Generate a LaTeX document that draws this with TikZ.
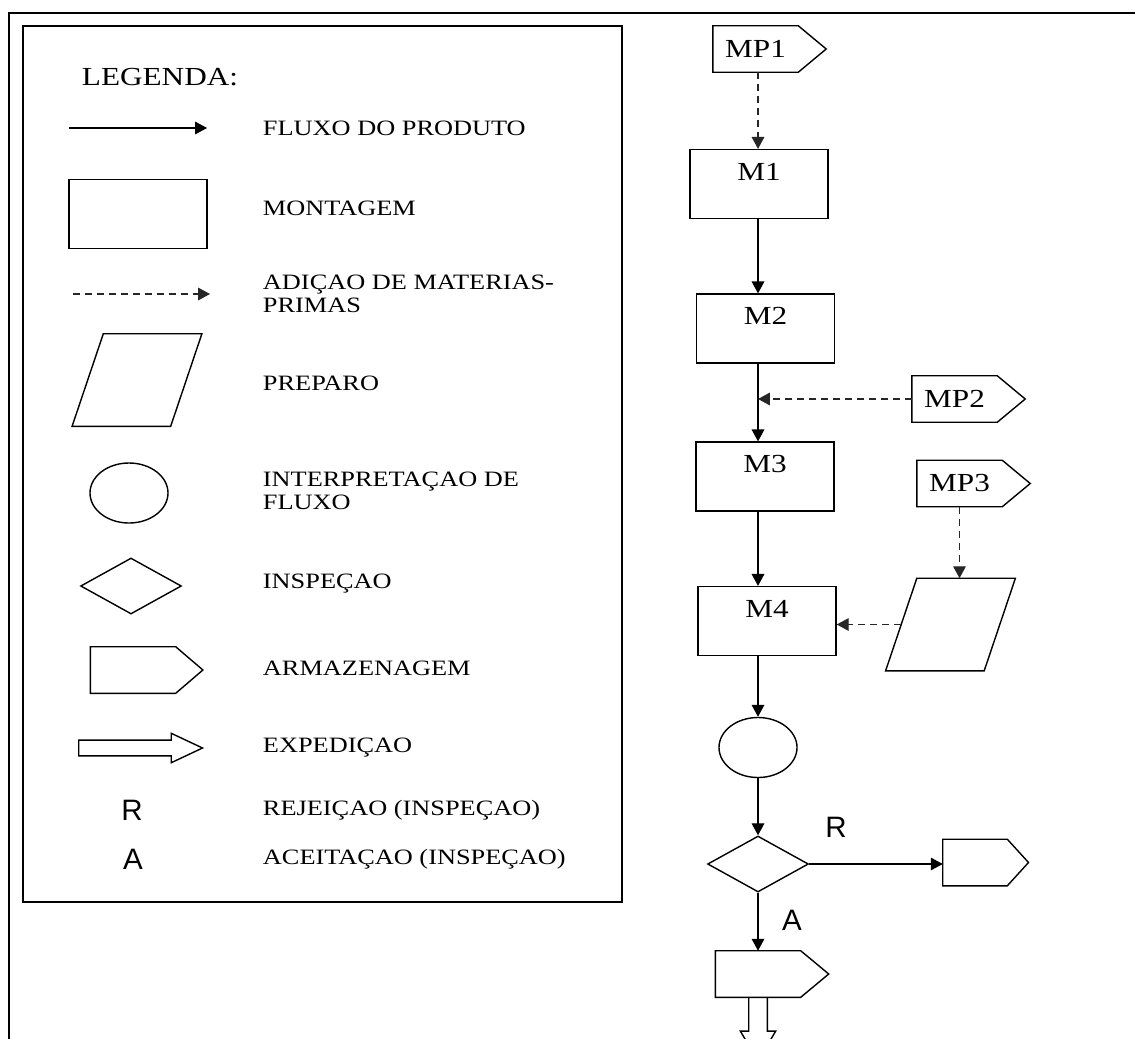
\documentclass[tikz,border=0pt]{standalone}
\usepackage{fontspec}
\setmainfont{Liberation Serif}[FakeStretch=1.2]
\newfontfamily\arialfont{Liberation Sans}
\usetikzlibrary{arrows.meta,shapes.geometric}

\newcommand\legsize{\fontsize{15.6}{16.4}\selectfont}
\newcommand\bigsize{\fontsize{18.5}{20}\selectfont}
\newcommand\rasize{\arialfont\fontsize{21}{21}\selectfont}

\tikzset{
  flow/.style={line width=0.9pt, -{Triangle[length=8.5pt,width=9pt]}},
  addflow/.style={flow, black!85, dash pattern=on 5pt off 3.5pt},
  shapeline/.style={draw, line width=1pt},
  box/.style={shapeline, minimum width=3.45cm, text height=0.76cm, text depth=0.96cm, inner sep=0pt, font=\bigsize},
  store/.style={inner sep=0pt, minimum width=2.12cm, minimum height=1.15cm, font=\bigsize,
    append after command={\pgfextra{\draw[line width=1pt] (\tikzlastnode.north west) -- (\tikzlastnode.north east)
      -- ([xshift=#1]\tikzlastnode.east) -- (\tikzlastnode.south east) -- (\tikzlastnode.south west) -- cycle;}}},
  store/.default=0.7cm,
  prep/.style={inner sep=0pt, minimum width=2.45cm, minimum height=2.3cm,
    append after command={\pgfextra{\draw[line width=1pt] ([xshift=0.39cm]\tikzlastnode.north west)
      -- ([xshift=0.39cm]\tikzlastnode.north east) -- ([xshift=-0.39cm]\tikzlastnode.south east)
      -- ([xshift=-0.39cm]\tikzlastnode.south west) -- cycle;}}},
  interp/.style={shapeline, ellipse, minimum width=1.95cm, minimum height=1.5cm, inner sep=0pt},
  insp/.style={shapeline, diamond, minimum width=2.52cm, minimum height=1.4cm, inner sep=0pt},
  % hollow arrow, shaft is the node
  ship/.style={inner sep=0pt, minimum width=2.3cm, minimum height=0.38cm,
    append after command={\pgfextra{\draw[line width=1pt] (\tikzlastnode.north west) -- (\tikzlastnode.north east)
      -- ([yshift=0.17cm]\tikzlastnode.north east) -- ([xshift=0.78cm]\tikzlastnode.east)
      -- ([yshift=-0.17cm]\tikzlastnode.south east) -- (\tikzlastnode.south east)
      -- (\tikzlastnode.south west) -- cycle;}}},
  shipdown/.style={inner sep=0pt, minimum width=0.45cm, minimum height=0.83cm,
    append after command={\pgfextra{\draw[line width=1pt] (\tikzlastnode.north west) -- (\tikzlastnode.south west)
      -- ([xshift=-0.21cm]\tikzlastnode.south west) -- ([yshift=-0.75cm]\tikzlastnode.south)
      -- ([xshift=0.21cm]\tikzlastnode.south east) -- (\tikzlastnode.south east)
      -- (\tikzlastnode.north east);}}},
  legtext/.style={anchor=west, align=left, font=\legsize},
}

\begin{document}
\begin{tikzpicture}[x=0.025cm, y=-0.025cm]
  \useasboundingbox (0,0) rectangle (1135,1038);
  \clip (0,0) rectangle (1135,1038);
  % frames
  \draw[line width=1.5pt] (9,13) rectangle (1200,1100);
  \draw[line width=1.1pt] (23,26) rectangle (622,902);

  % legend
  \node[anchor=west, font=\bigsize] (leg) at (77,77) {LEGENDA:};
  \coordinate (fa) at (69,128);
  \coordinate (fb) at (207,128);
  \draw[flow] (fa) -- (fb);
  \node[box] (lrect) at (138,214) {};
  \coordinate (da) at (73,294);
  \coordinate (db) at (210,294);
  \draw[addflow] (da) -- (db);
  \node[prep] (lprep) at (137,380) {};
  \node[interp] (lcirc) at (129,493) {};
  \node[insp] (ldiam) at (131,586) {};
  \node[store=0.68cm] (lstore) at (133,670) {};
  \node[ship] (lship) at (125,748) {};
  \node[font=\rasize] (lr) at (132,810) {R};
  \node[font=\rasize] (la) at (133,859) {A};
  \foreach \y/\txt [count=\i] in {128/FLUXO DO PRODUTO, 208/MONTAGEM, 294/{ADIÇAO DE MATERIAS-\\PRIMAS},
      383/PREPARO, 491/{INTERPRETAÇAO DE\\FLUXO}, 584/INSPEÇAO, 668/ARMAZENAGEM, 748/EXPEDIÇAO,
      810/REJEIÇAO (INSPEÇAO), 859/ACEITAÇAO (INSPEÇAO)}
    \node[legtext] (txt\i) at (258,\y) {\txt};

  % flow
  \coordinate (col) at (758,0);
  \node[store] (MP1) at (755.5,49) {MP1};
  \node[box] (M1) at (759,184) {M1};
  \node[box] (M2) at (765.5,328.5) {M2};
  \node[store] (MP2) at (954.5,399) {MP2};
  \node[box] (M3) at (765,476.5) {M3};
  \node[store] (MP3) at (959.5,483.5) {MP3};
  \node[prep] (P) at (950.5,624.5) {};
  \node[box] (M4) at (767,621) {M4};
  \node[interp] (C) at (758,747.5) {};
  \node[insp] (D) at (758,864) {};
  \node[store=0.53cm, minimum width=1.6cm] (REJ) at (975,862.5) {};
  \node[store] (BOT) at (758,974) {};
  \node[shipdown, anchor=north] (EXP) at (BOT.south) {};

  \draw[addflow] (MP1.south -| col) -- (M1.north -| col);
  \draw[flow] (M1.south -| col) -- (M2.north -| col);
  \draw[flow] (M2.south -| col) -- (M3.north -| col);
  \draw[addflow] (MP2.west) -- (MP2.west -| col);
  \draw[flow] (M3.south -| col) -- (M4.north -| col);
  \draw[addflow] (MP3.south) -- (MP3.south |- P.north);
  \draw[addflow] (P.west) -- (P.west -| M4.east);
  \draw[flow] (M4.south -| col) -- (C.north);
  \draw[flow] (C.south) -- (D.north);
  \draw[flow] (D.east) -- (D.east -| REJ.west);
  \draw[flow] (D.south) -- (BOT.north);
  \node[font=\rasize] (rlab) at (836,827) {R};
  \node[font=\rasize] (alab) at (792,920) {A};
\end{tikzpicture}
\end{document}
